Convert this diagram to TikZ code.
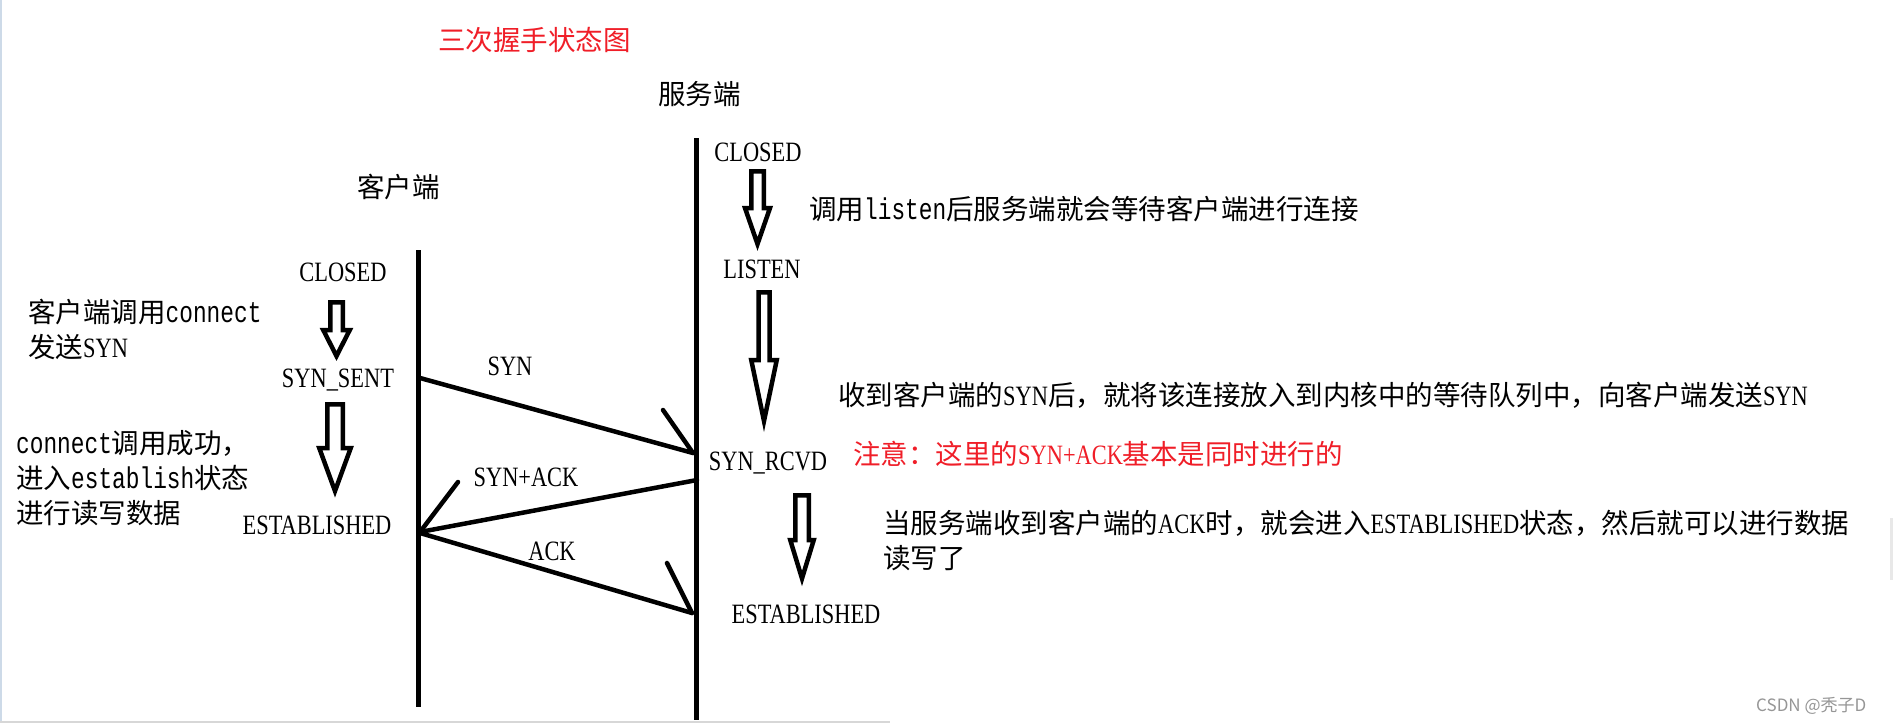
\documentclass[tikz,border=0pt]{standalone}
\usepackage{fontspec}
\setmainfont{Noto Sans CJK SC}
\newfontfamily\tlat[FakeStretch=0.8]{Liberation Serif}
\newfontfamily\tmono[FakeStretch=0.76]{Liberation Mono}
\newcommand\Lt[1]{{\tlat\fontsize{28}{32}\selectfont #1}}
\newcommand\Mo[1]{{\tmono\fontsize{30}{32}\selectfont #1}}
\newcommand\harrow[6]{%
  \draw[harrowstyle] ({#1-#5},#2) -- ({#1+#5},#2) -- ({#1+#5},#3) -- ({#1+#6},#3)
    -- (#1,#4) -- ({#1-#6},#3) -- ({#1-#5},#3) -- cycle;}
\definecolor{notered}{RGB}{240,30,40}
\tikzset{
  lbl/.style={inner sep=0pt, font=\tlat\fontsize{28}{32}\selectfont, anchor=base},
  note/.style={inner sep=0pt, font=\fontsize{27.5}{32}\selectfont, anchor=base west},
  life/.style={line width=5pt},
  msg/.style={line width=4.5pt, line cap=round},
  harrowstyle/.style={line width=4.5pt, line join=miter},
}
\begin{document}
\begin{tikzpicture}[x=1pt,y=-1pt]
\useasboundingbox (0,0) rectangle (1896,723);
\fill[white] (0,0) rectangle (1896,723);
% screenshot edges
\draw[line width=2pt, color={rgb,255:red,205;green,218;blue,232}] (1,0) -- (1,723);
\draw[line width=2pt, color={rgb,255:red,215;green,215;blue,215}] (0,722) -- (890,722);
\draw[line width=3pt, color={rgb,255:red,232;green,232;blue,232}] (1891,518) -- (1891,580);

% titles
\node[note, text=notered] (title) at (438,50) {三次握手状态图};
\node[note] (server) at (658,104) {服务端};
\node[note] (client) at (357,197) {客户端};

% lifelines
\coordinate (ctop) at (418,250);
\coordinate (cbot) at (418,707);
\coordinate (stop) at (696,138);
\coordinate (sbot) at (696,720);
\draw[life] (ctop) -- (cbot);
\draw[life] (stop) -- (sbot);

% client states
\node[lbl] (cclosed) at (343,281) {CLOSED};
\node[lbl] (csent) at (338,387) {SYN\_SENT};
\node[lbl] (cest) at (317,534) {ESTABLISHED};
\harrow{336.5}{302.25}{330}{356}{6.25}{13.25}
\harrow{335}{404.25}{448}{491}{7.75}{15.75}

% server states
\node[lbl] (sclosed) at (758,161) {CLOSED};
\node[lbl] (slisten) at (762,278) {LISTEN};
\node[lbl] (srcvd) at (768,470) {SYN\_RCVD};
\node[lbl] (sest) at (806,623) {ESTABLISHED};
\harrow{757.5}{171.25}{208}{244}{6.25}{12.5}
\harrow{764}{292.25}{360}{421}{5.5}{12.75}
\harrow{802}{495.25}{540}{578.5}{6.75}{11.75}

% messages
\coordinate (m1a) at (420,378);
\coordinate (m1b) at (693,453);
\coordinate (m1w) at (663,410);
\coordinate (m2a) at (697,480);
\coordinate (m2b) at (420,532);
\coordinate (m2w) at (458,482);
\coordinate (m3a) at (420,533);
\coordinate (m3b) at (692,613);
\coordinate (m3w) at (667,563);
\draw[msg] (m1a) -- (m1b);
\draw[msg] (m1w) -- (m1b);
\draw[msg] (m2a) -- (m2b);
\draw[msg] (m2w) -- (m2b);
\draw[msg] (m3a) -- (m3b);
\draw[msg] (m3w) -- (m3b);
\node[lbl] (lsyn) at (510,375) {SYN};
\node[lbl] (lsynack) at (526,486) {SYN+ACK};
\node[lbl] (lack) at (552,560) {ACK};

% client notes
\node[note] (cn1) at (28,322) {客户端调用\Mo{connect}};
\node[note] (cn2) at (28,357) {发送\Lt{SYN}};
\node[note] (cn3) at (16,453) {\Mo{connect}调用成功，};
\node[note] (cn4) at (16,488) {进入\Mo{establish}状态};
\node[note] (cn5) at (16,523) {进行读写数据};

% server notes
\node[note] (sn1) at (809,219) {调用\Mo{listen}后服务端就会等待客户端进行连接};
\node[note] (sn2) at (838,405) {收到客户端的\Lt{SYN}后，就将该连接放入到内核中的等待队列中，向客户端发送\Lt{SYN}};
\node[note, text=notered] (sn3) at (853,464) {注意：这里的\Lt{SYN+ACK}基本是同时进行的};
\node[note] (sn4) at (883,533) {当服务端收到客户端的\Lt{ACK}时，就会进入\Lt{ESTABLISHED}状态，然后就可以进行数据};
\node[note] (sn5) at (883,568) {读写了};

% watermark
\node[inner sep=0pt, anchor=base west, font=\fontsize{17}{20}\selectfont, text={rgb,255:red,150;green,150;blue,150}] (wm) at (1756,711) {CSDN @秃子D};
\end{tikzpicture}
\end{document}
